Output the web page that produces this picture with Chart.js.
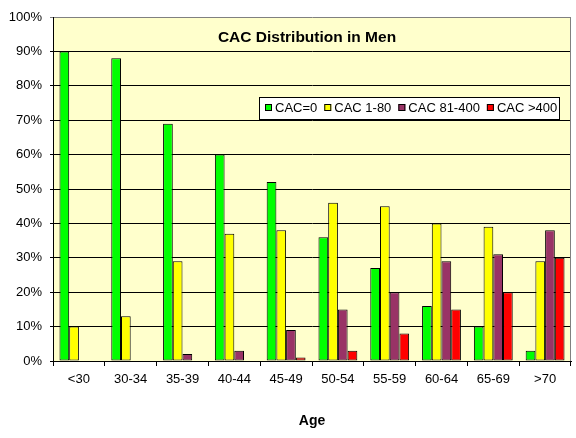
<!DOCTYPE html>
<html>
<head>
<meta charset="utf-8">
<script src="https://cdn.jsdelivr.net/npm/chart.js@4/dist/chart.umd.min.js"></script>
<style>
  body { margin: 0; background: #fff; }
  #wrap { width: 576px; height: 438px; }
</style>
</head>
<body>
<div id="wrap"><canvas id="cacChart" width="576" height="438"></canvas></div>
<script>
const ageGroups = ["<30", "30-34", "35-39", "40-44", "45-49", "50-54", "55-59", "60-64", "65-69", ">70"];
const cac0      = [90, 88, 69, 60, 52, 36, 27, 16, 10, 3];
const cac1to80  = [10, 13, 29, 37, 38, 46, 45, 40, 39, 29];
const cac81to400 = [0, 0, 2, 3, 9, 15, 20, 29, 31, 38];
const cacOver400 = [0, 0, 0, 0, 1, 3, 8, 15, 20, 30];
const seriesNames = ["CAC=0", "CAC 1-80", "CAC 81-400", "CAC >400"];
const seriesColors = ["#00FF00", "#FFFF00", "#993366", "#FF0000"];
const chartTitle = "CAC Distribution in Men";
const xTitle = "Age";

const FONT = "'Liberation Sans', Arial, sans-serif";

// plot background, gray frame, title + boxed legend inside the plot (Excel style)
const excelPlot = {
  id: "excelPlot",
  beforeDraw(chart) {
    const { ctx, chartArea: a } = chart;
    ctx.save();
    ctx.fillStyle = "#FFFFCC";
    ctx.fillRect(a.left, a.top, a.right - a.left, a.bottom - a.top);
    ctx.restore();
  },
  afterDraw(chart) {
    const { ctx, chartArea: a } = chart;
    ctx.save();
    // right border
    ctx.strokeStyle = "#808080";
    ctx.lineWidth = 1;
    ctx.beginPath();
    ctx.moveTo(a.right - 0.5, a.top);
    ctx.lineTo(a.right - 0.5, a.bottom);
    ctx.stroke();

    // title
    ctx.fillStyle = "#000";
    ctx.font = "bold 15.5px " + FONT;
    ctx.textAlign = "center";
    ctx.textBaseline = "middle";
    ctx.fillText(chartTitle, 307, 38);

    // legend
    ctx.fillStyle = "#fff";
    ctx.fillRect(259, 97, 300, 22);
    ctx.strokeStyle = "#000";
    ctx.strokeRect(259.5, 97.5, 300, 22);
    ctx.font = "13px " + FONT;
    ctx.textAlign = "left";
    let x = 265;
    chart.data.datasets.forEach(ds => {
      ctx.fillStyle = ds.backgroundColor;
      ctx.fillRect(x, 104, 7, 7);
      ctx.strokeStyle = "#000";
      ctx.strokeRect(x + 0.5, 104.5, 6, 6);
      ctx.fillStyle = "#000";
      ctx.fillText(ds.label, x + 10, 108.5);
      x += 10 + ctx.measureText(ds.label).width + 7;
    });
    ctx.restore();
  }
};

const allSeries = [cac0, cac1to80, cac81to400, cacOver400];

new Chart(document.getElementById("cacChart"), {
  type: "bar",
  data: {
    labels: ageGroups,
    datasets: allSeries.map((vals, i) => ({
      label: seriesNames[i],
      data: vals,
      backgroundColor: seriesColors[i],
      borderColor: "#000",
      borderWidth: 1,
      borderSkipped: false,
      categoryPercentage: 0.75,
      barPercentage: 1.0
    }))
  },
  options: {
    responsive: false,
    animation: false,
    layout: { padding: { left: 0, right: 5, top: 17, bottom: 0 } },
    plugins: {
      legend: { display: false },
      title: { display: false },
      tooltip: { enabled: false }
    },
    scales: {
      x: {
        grid: { offset: true, drawOnChartArea: false, drawTicks: true, tickLength: 5, color: "#000" },
        border: { color: "#000", width: 1 },
        ticks: { color: "#000", font: { family: FONT, size: 13 }, padding: 6, maxRotation: 0 },
        title: { display: true, text: xTitle, color: "#000", font: { family: FONT, size: 14, weight: "bold" }, padding: { top: 0, bottom: 8 } },
        afterFit: s => { s.height = 77; }
      },
      y: {
        min: 0, max: 100,
        ticks: { stepSize: 10, color: "#000", font: { family: FONT, size: 13 }, padding: 8, callback: v => v + "%" },
        grid: { color: c => c.tick && c.tick.value === 100 ? "#808080" : "#000", lineWidth: 1, tickLength: 3 },
        border: { color: "#000", width: 1 },
        afterFit: s => { s.width = 53; }
      }
    }
  },
  plugins: [excelPlot]
});
</script>
</body>
</html>
